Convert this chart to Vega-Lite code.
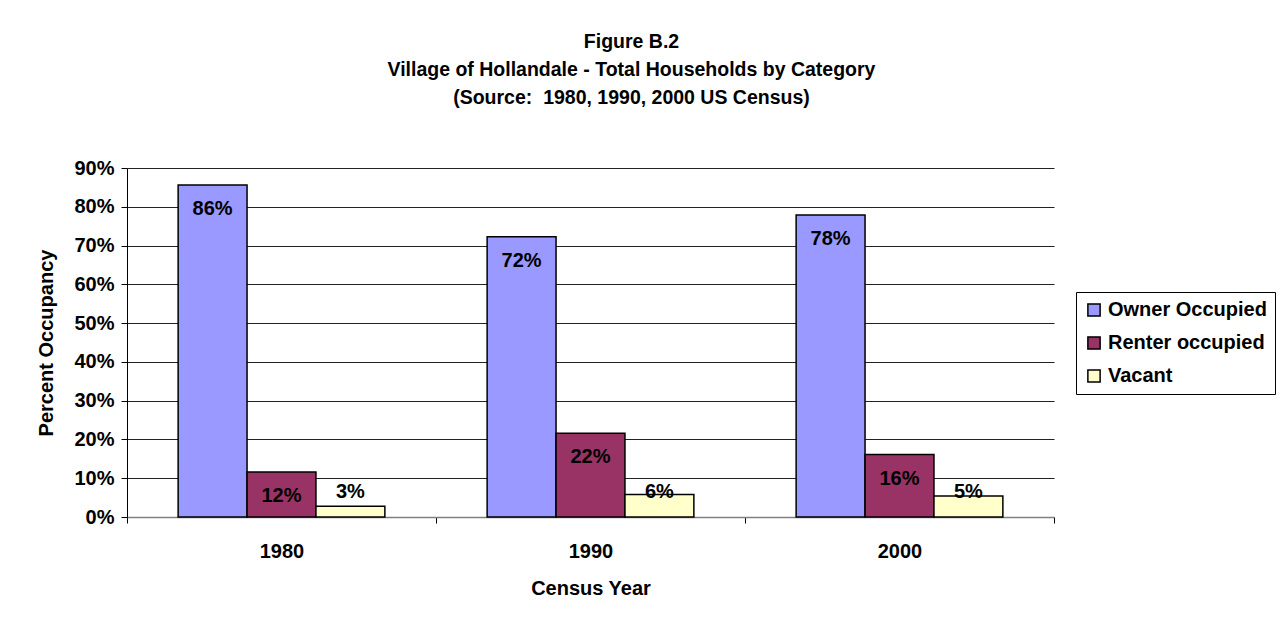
{
  "$schema": "https://vega.github.io/schema/vega-lite/v6.json",
  "autosize": {"type": "none"},
  "padding": {"left": 127, "top": 168, "right": 233, "bottom": 107},
  "width": 927,
  "height": 349,
  "background": "white",
  "config": {
    "font": "Liberation Sans",
    "view": {"stroke": null},
    "axis": {"labelFont": "Liberation Sans", "titleFont": "Liberation Sans", "labelColor": "black", "titleColor": "black"}
  },
  "title": {
    "text": ["Figure B.2", "Village of Hollandale - Total Households by Category", "(Source: \u00a01980, 1990, 2000 US Census)"],
    "fontSize": 19.5,
    "fontWeight": "bold",
    "font": "Liberation Sans",
    "color": "black",
    "lineHeight": 28,
    "anchor": "middle",
    "dx": 41,
    "offset": 50
  },
  "data": {
    "values": [
      {"year": "1980", "category": "Owner Occupied", "pct": 0.856},
      {"year": "1980", "category": "Renter occupied", "pct": 0.116},
      {"year": "1980", "category": "Vacant", "pct": 0.028},
      {"year": "1990", "category": "Owner Occupied", "pct": 0.723},
      {"year": "1990", "category": "Renter occupied", "pct": 0.216},
      {"year": "1990", "category": "Vacant", "pct": 0.058},
      {"year": "2000", "category": "Owner Occupied", "pct": 0.779},
      {"year": "2000", "category": "Renter occupied", "pct": 0.161},
      {"year": "2000", "category": "Vacant", "pct": 0.054}
    ]
  },
  "encoding": {
    "x": {
      "field": "year", "type": "nominal",
      "scale": {"paddingInner": 0, "paddingOuter": 0},
      "axis": {
        "title": "Census Year", "titleFontSize": 20, "titleFontWeight": "bold", "titlePadding": 17,
        "labelAngle": 0, "labelFontSize": 20, "labelFontWeight": "bold", "labelPadding": 18,
        "tickBand": "extent", "tickSize": 6, "tickColor": "black", "domainColor": "#808080", "domainWidth": 1.5, "grid": false
      }
    },
    "xOffset": {"field": "category", "type": "nominal", "scale": {"paddingInner": 0, "paddingOuter": 0.742}, "sort": ["Owner Occupied", "Renter occupied", "Vacant"]}
  },
  "layer": [
    {
      "mark": {"type": "bar", "stroke": "black", "strokeWidth": 1.5},
      "encoding": {
        "y": {
          "field": "pct", "type": "quantitative",
          "scale": {"domain": [0, 0.9], "nice": false},
          "axis": {
            "title": "Percent Occupancy", "titleFontSize": 20, "titleFontWeight": "bold", "titlePadding": 17,
            "format": ".0%", "values": [0, 0.1, 0.2, 0.3, 0.4, 0.5, 0.6, 0.7, 0.8, 0.9], "labelOverlap": false,
            "labelFontSize": 20, "labelFontWeight": "bold", "labelPadding": 7,
            "tickSize": 6, "tickColor": "black", "domainColor": "black",
            "grid": true, "gridColor": "#222222", "gridWidth": 1
          }
        },
        "color": {
          "field": "category", "type": "nominal",
          "sort": ["Owner Occupied", "Renter occupied", "Vacant"],
          "scale": {"domain": ["Owner Occupied", "Renter occupied", "Vacant"], "range": ["#9999FF", "#993366", "#FFFFCC"]},
          "legend": {
            "title": null, "orient": "none", "legendX": 949, "legendY": 124,
            "symbolType": "square", "symbolSize": 150, "symbolStrokeColor": "black", "symbolStrokeWidth": 1.5,
            "labelFontSize": 20, "labelFontWeight": "bold", "labelColor": "black", "labelFont": "Liberation Sans",
            "rowPadding": 13, "padding": 8, "strokeColor": "black", "fillColor": "white", "labelOffset": 4
          }
        }
      }
    },
    {
      "transform": [{"filter": "datum.category !== 'Vacant'"}],
      "mark": {"type": "text", "fontSize": 20, "fontWeight": "bold", "font": "Liberation Sans", "color": "black", "baseline": "middle", "dy": 24},
      "encoding": {
        "y": {
          "field": "pct", "type": "quantitative",
          "axis": {
            "title": "Percent Occupancy", "titleFontSize": 20, "titleFontWeight": "bold", "titlePadding": 17,
            "format": ".0%", "values": [0, 0.1, 0.2, 0.3, 0.4, 0.5, 0.6, 0.7, 0.8, 0.9], "labelOverlap": false,
            "labelFontSize": 20, "labelFontWeight": "bold", "labelPadding": 7,
            "tickSize": 6, "tickColor": "black", "domainColor": "black",
            "grid": true, "gridColor": "#222222", "gridWidth": 1
          }
        },
        "text": {"field": "pct", "type": "quantitative", "format": ".0%"}
      }
    },
    {
      "transform": [{"filter": "datum.category === 'Vacant'"}],
      "mark": {"type": "text", "fontSize": 20, "fontWeight": "bold", "font": "Liberation Sans", "color": "black", "baseline": "middle"},
      "encoding": {
        "y": {
          "datum": 0.064, "type": "quantitative",
          "axis": {
            "title": "Percent Occupancy", "titleFontSize": 20, "titleFontWeight": "bold", "titlePadding": 17,
            "format": ".0%", "values": [0, 0.1, 0.2, 0.3, 0.4, 0.5, 0.6, 0.7, 0.8, 0.9], "labelOverlap": false,
            "labelFontSize": 20, "labelFontWeight": "bold", "labelPadding": 7,
            "tickSize": 6, "tickColor": "black", "domainColor": "black",
            "grid": true, "gridColor": "#222222", "gridWidth": 1
          }
        },
        "text": {"field": "pct", "type": "quantitative", "format": ".0%"}
      }
    }
  ]
}
